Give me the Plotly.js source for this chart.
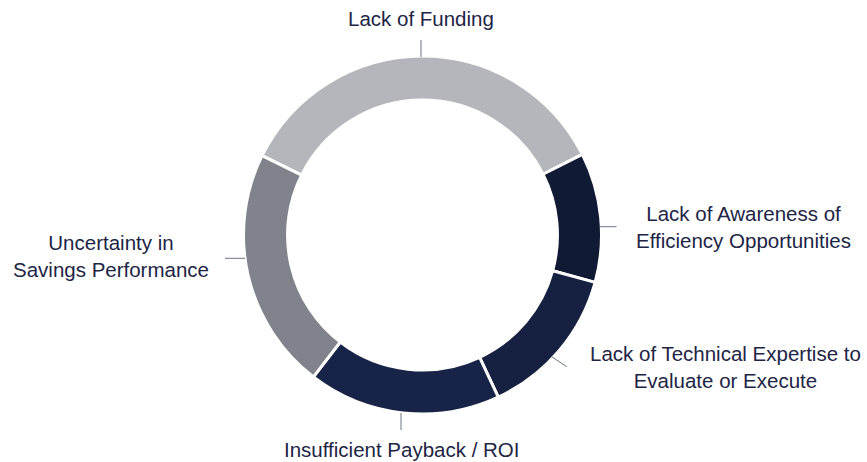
<!DOCTYPE html>
<html>
<head>
<meta charset="utf-8">
<script src="https://cdn.plot.ly/plotly-3.0.1.min.js"></script>
<style>html,body{margin:0;padding:0;background:#fff;}#chart{width:867px;height:462px;}</style>
</head>
<body>
<div id="chart"></div>
<script>
// ---- data ----
var categories = [
  "Lack of Funding",
  "Lack of Awareness of Efficiency Opportunities",
  "Lack of Technical Expertise to Evaluate or Execute",
  "Insufficient Payback / ROI",
  "Uncertainty in Savings Performance"
];
var displayLabels = [
  "Lack of Funding",
  "Lack of Awareness of<br>Efficiency Opportunities",
  "Lack of Technical Expertise to<br>Evaluate or Execute",
  "Insufficient Payback / ROI",
  "Uncertainty in<br>Savings Performance"
];
var shares = [35.3, 11.7, 13.8, 17.4, 21.9];

// ---- style ----
var sliceColors = ["#b5b6bb", "#111a35", "#162040", "#182447", "#80838c"];
var W = 867, H = 462;
function px(x){ return x / W; }
function py(y){ return 1 - y / H; }

// label placement (pixels): text centre and leader line
var labelPos = [
  {x: 420.5, y: 19,    line: [421, 40, 421, 57]},
  {x: 743,   y: 227.2, line: [600, 226.7, 616.5, 226.7]},
  {x: 725,   y: 367.2, line: [551.7, 356.7, 566.7, 366.7]},
  {x: 401,   y: 449,   line: [401, 413, 401, 430]},
  {x: 110.7, y: 256.4, line: [225, 258.3, 245, 258.3]}
];

var annotations = [], shapes = [];
for (var i = 0; i < categories.length; i++) {
  var p = labelPos[i];
  annotations.push({
    xref: 'paper', yref: 'paper', x: px(p.x), y: py(p.y),
    xanchor: 'center', yanchor: 'middle', align: 'center',
    text: displayLabels[i], showarrow: false,
    font: {family: 'Liberation Sans, Arial, sans-serif', size: 20.5, color: '#1d2545'}
  });
  shapes.push({
    type: 'line', xref: 'paper', yref: 'paper',
    x0: px(p.line[0]), y0: py(p.line[1]), x1: px(p.line[2]), y1: py(p.line[3]),
    line: {color: '#6f7483', width: 1}
  });
}

var trace = {
  type: 'pie',
  labels: categories,
  values: shares,
  sort: false,
  direction: 'clockwise',
  rotation: -63.7,
  hole: 0.754,
  textinfo: 'none',
  hoverinfo: 'label+percent',
  marker: {colors: sliceColors, line: {color: '#ffffff', width: 3}},
  domain: {x: [243.5 / W, 601.5 / W], y: [48 / H, 406 / H]},
  showlegend: false
};

var layout = {
  width: W, height: H,
  margin: {l: 0, r: 0, t: 0, b: 0},
  paper_bgcolor: '#ffffff',
  plot_bgcolor: '#ffffff',
  showlegend: false,
  annotations: annotations,
  shapes: shapes
};

Plotly.newPlot('chart', [trace], layout, {displayModeBar: false, staticPlot: true});
</script>
</body>
</html>
